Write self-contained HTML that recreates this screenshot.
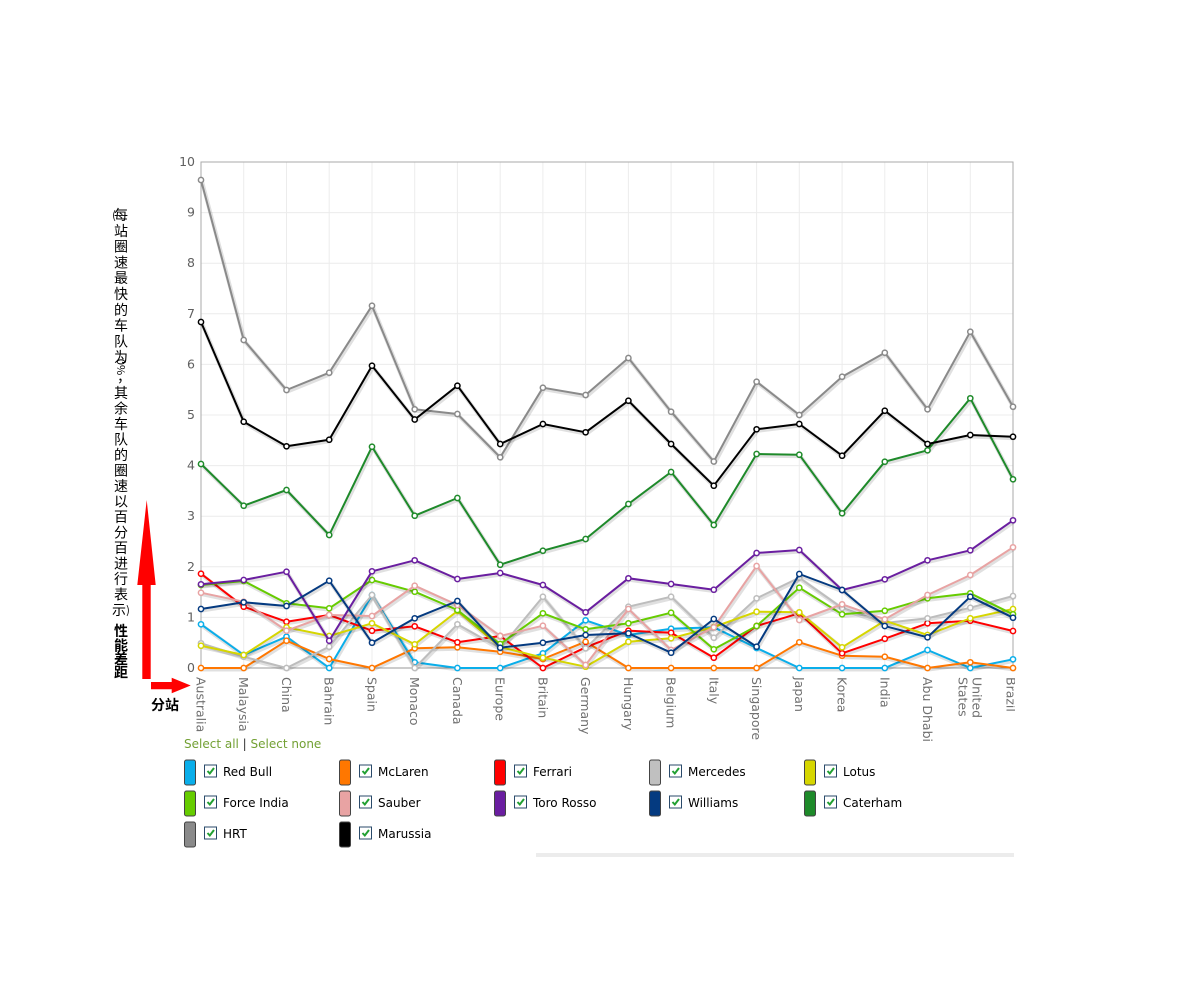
<!DOCTYPE html>
<html><head><meta charset="utf-8"><style>
html,body{margin:0;padding:0;background:#fff;}
svg{display:block;}
.t{font-family:"DejaVu Sans","Liberation Sans",sans-serif;}
.cj{font-family:"Noto Sans CJK SC","Liberation Sans",sans-serif;font-size:14px;fill:#000;}
</style></head><body>
<svg width="1200" height="1000" viewBox="0 0 1200 1000" xmlns="http://www.w3.org/2000/svg">
<defs>
<clipPath id="cl"><rect x="0" y="0" width="1015" height="1000"/></clipPath>
<marker id="m0" markerWidth="10" markerHeight="10" refX="5" refY="5" markerUnits="userSpaceOnUse"><circle cx="5" cy="5" r="2.6" fill="#fff" stroke="#0aaeea" stroke-width="1.5"/></marker>
<marker id="m1" markerWidth="10" markerHeight="10" refX="5" refY="5" markerUnits="userSpaceOnUse"><circle cx="5" cy="5" r="2.6" fill="#fff" stroke="#ff7700" stroke-width="1.5"/></marker>
<marker id="m2" markerWidth="10" markerHeight="10" refX="5" refY="5" markerUnits="userSpaceOnUse"><circle cx="5" cy="5" r="2.6" fill="#fff" stroke="#ff0000" stroke-width="1.5"/></marker>
<marker id="m3" markerWidth="10" markerHeight="10" refX="5" refY="5" markerUnits="userSpaceOnUse"><circle cx="5" cy="5" r="2.6" fill="#fff" stroke="#bdbdbd" stroke-width="1.5"/></marker>
<marker id="m4" markerWidth="10" markerHeight="10" refX="5" refY="5" markerUnits="userSpaceOnUse"><circle cx="5" cy="5" r="2.6" fill="#fff" stroke="#d6d600" stroke-width="1.5"/></marker>
<marker id="m5" markerWidth="10" markerHeight="10" refX="5" refY="5" markerUnits="userSpaceOnUse"><circle cx="5" cy="5" r="2.6" fill="#fff" stroke="#66cc00" stroke-width="1.5"/></marker>
<marker id="m6" markerWidth="10" markerHeight="10" refX="5" refY="5" markerUnits="userSpaceOnUse"><circle cx="5" cy="5" r="2.6" fill="#fff" stroke="#e8a3a3" stroke-width="1.5"/></marker>
<marker id="m7" markerWidth="10" markerHeight="10" refX="5" refY="5" markerUnits="userSpaceOnUse"><circle cx="5" cy="5" r="2.6" fill="#fff" stroke="#6a1ea0" stroke-width="1.5"/></marker>
<marker id="m8" markerWidth="10" markerHeight="10" refX="5" refY="5" markerUnits="userSpaceOnUse"><circle cx="5" cy="5" r="2.6" fill="#fff" stroke="#043a80" stroke-width="1.5"/></marker>
<marker id="m9" markerWidth="10" markerHeight="10" refX="5" refY="5" markerUnits="userSpaceOnUse"><circle cx="5" cy="5" r="2.6" fill="#fff" stroke="#1e8a2a" stroke-width="1.5"/></marker>
<marker id="m10" markerWidth="10" markerHeight="10" refX="5" refY="5" markerUnits="userSpaceOnUse"><circle cx="5" cy="5" r="2.6" fill="#fff" stroke="#8a8a8a" stroke-width="1.5"/></marker>
<marker id="m11" markerWidth="10" markerHeight="10" refX="5" refY="5" markerUnits="userSpaceOnUse"><circle cx="5" cy="5" r="2.6" fill="#fff" stroke="#000" stroke-width="1.5"/></marker>
</defs>

<!-- grid -->
<g stroke="#ececec" stroke-width="1">
<line x1="201" y1="617.4" x2="1013" y2="617.4"/>
<line x1="201" y1="566.8" x2="1013" y2="566.8"/>
<line x1="201" y1="516.2" x2="1013" y2="516.2"/>
<line x1="201" y1="465.6" x2="1013" y2="465.6"/>
<line x1="201" y1="415" x2="1013" y2="415"/>
<line x1="201" y1="364.4" x2="1013" y2="364.4"/>
<line x1="201" y1="313.8" x2="1013" y2="313.8"/>
<line x1="201" y1="263.2" x2="1013" y2="263.2"/>
<line x1="201" y1="212.6" x2="1013" y2="212.6"/>
<line x1="243.7" y1="162" x2="243.7" y2="668"/>
<line x1="286.5" y1="162" x2="286.5" y2="668"/>
<line x1="329.2" y1="162" x2="329.2" y2="668"/>
<line x1="372" y1="162" x2="372" y2="668"/>
<line x1="414.7" y1="162" x2="414.7" y2="668"/>
<line x1="457.4" y1="162" x2="457.4" y2="668"/>
<line x1="500.2" y1="162" x2="500.2" y2="668"/>
<line x1="542.9" y1="162" x2="542.9" y2="668"/>
<line x1="585.6" y1="162" x2="585.6" y2="668"/>
<line x1="628.4" y1="162" x2="628.4" y2="668"/>
<line x1="671.1" y1="162" x2="671.1" y2="668"/>
<line x1="713.8" y1="162" x2="713.8" y2="668"/>
<line x1="756.6" y1="162" x2="756.6" y2="668"/>
<line x1="799.3" y1="162" x2="799.3" y2="668"/>
<line x1="842.1" y1="162" x2="842.1" y2="668"/>
<line x1="884.8" y1="162" x2="884.8" y2="668"/>
<line x1="927.5" y1="162" x2="927.5" y2="668"/>
<line x1="970.3" y1="162" x2="970.3" y2="668"/>
</g>
<rect x="201" y="162" width="812" height="506" fill="none" stroke="#aaa" stroke-width="1"/>
<line x1="201" y1="668" x2="1013" y2="668" stroke="#999" stroke-width="1"/>

<!-- y tick labels -->
<g class="t" font-size="12.5" fill="#606060" text-anchor="end">
<text x="195" y="672">0</text>
<text x="195" y="621.4">1</text>
<text x="195" y="570.8">2</text>
<text x="195" y="520.2">3</text>
<text x="195" y="469.6">4</text>
<text x="195" y="419">5</text>
<text x="195" y="368.4">6</text>
<text x="195" y="317.8">7</text>
<text x="195" y="267.2">8</text>
<text x="195" y="216.6">9</text>
<text x="195" y="166">10</text>
</g>

<!-- series -->
<g fill="none" stroke-linejoin="round" stroke-linecap="round">
<g>
<polyline transform="translate(1,1.5)" stroke="rgba(0,0,0,0.12)" stroke-width="4" points="201,624.3 243.7,655 286.5,636.7 329.2,668 372,595 414.7,662.3 457.4,668 500.2,668 542.9,653.3 585.6,620.3 628.4,635 671.1,628.7 713.8,627.3 756.6,648 799.3,668 842.1,668 884.8,668 927.5,650 970.3,668 1013,659.3"/>
<polyline stroke="#0aaeea" stroke-width="2" marker-start="url(#m0)" marker-mid="url(#m0)" marker-end="url(#m0)" points="201,624.3 243.7,655 286.5,636.7 329.2,668 372,595 414.7,662.3 457.4,668 500.2,668 542.9,653.3 585.6,620.3 628.4,635 671.1,628.7 713.8,627.3 756.6,648 799.3,668 842.1,668 884.8,668 927.5,650 970.3,668 1013,659.3"/>
</g>
<g>
<polyline transform="translate(1,1.5)" stroke="rgba(0,0,0,0.12)" stroke-width="4" points="201,668 243.7,668 286.5,640.7 329.2,659 372,668 414.7,648.3 457.4,647.3 500.2,651.7 542.9,659 585.6,641.7 628.4,668 671.1,668 713.8,668 756.6,668 799.3,642.3 842.1,655.7 884.8,656.7 927.5,668 970.3,662.3 1013,668"/>
<polyline stroke="#ff7700" stroke-width="2" marker-start="url(#m1)" marker-mid="url(#m1)" marker-end="url(#m1)" points="201,668 243.7,668 286.5,640.7 329.2,659 372,668 414.7,648.3 457.4,647.3 500.2,651.7 542.9,659 585.6,641.7 628.4,668 671.1,668 713.8,668 756.6,668 799.3,642.3 842.1,655.7 884.8,656.7 927.5,668 970.3,662.3 1013,668"/>
</g>
<g>
<polyline transform="translate(1,1.5)" stroke="rgba(0,0,0,0.12)" stroke-width="4" points="201,573.7 243.7,606.7 286.5,621.7 329.2,615 372,630.7 414.7,626.3 457.4,642.3 500.2,636 542.9,668 585.6,647.3 628.4,630.7 671.1,632.7 713.8,657.7 756.6,626 799.3,613.3 842.1,653.3 884.8,638.7 927.5,623.3 970.3,620.7 1013,631"/>
<polyline stroke="#ff0000" stroke-width="2" marker-start="url(#m2)" marker-mid="url(#m2)" marker-end="url(#m2)" points="201,573.7 243.7,606.7 286.5,621.7 329.2,615 372,630.7 414.7,626.3 457.4,642.3 500.2,636 542.9,668 585.6,647.3 628.4,630.7 671.1,632.7 713.8,657.7 756.6,626 799.3,613.3 842.1,653.3 884.8,638.7 927.5,623.3 970.3,620.7 1013,631"/>
</g>
<g>
<polyline transform="translate(1,1.5)" stroke="rgba(0,0,0,0.12)" stroke-width="4" points="201,643.3 243.7,656.7 286.5,668 329.2,646.7 372,595 414.7,668 457.4,624.3 500.2,648.3 542.9,596.7 585.6,648.3 628.4,606.7 671.1,596.7 713.8,637.7 756.6,598.3 799.3,577.7 842.1,608 884.8,623 927.5,618.3 970.3,607.7 1013,596"/>
<polyline stroke="#bdbdbd" stroke-width="2" marker-start="url(#m3)" marker-mid="url(#m3)" marker-end="url(#m3)" points="201,643.3 243.7,656.7 286.5,668 329.2,646.7 372,595 414.7,668 457.4,624.3 500.2,648.3 542.9,596.7 585.6,648.3 628.4,606.7 671.1,596.7 713.8,637.7 756.6,598.3 799.3,577.7 842.1,608 884.8,623 927.5,618.3 970.3,607.7 1013,596"/>
</g>
<g>
<polyline transform="translate(1,1.5)" stroke="rgba(0,0,0,0.12)" stroke-width="4" points="201,645.7 243.7,655 286.5,627.3 329.2,636 372,623.3 414.7,644.3 457.4,611 500.2,647 542.9,657.7 585.6,666.7 628.4,641.7 671.1,638.3 713.8,627 756.6,611.7 799.3,612.3 842.1,647.3 884.8,620.7 927.5,635 970.3,618.3 1013,609"/>
<polyline stroke="#d6d600" stroke-width="2" marker-start="url(#m4)" marker-mid="url(#m4)" marker-end="url(#m4)" points="201,645.7 243.7,655 286.5,627.3 329.2,636 372,623.3 414.7,644.3 457.4,611 500.2,647 542.9,657.7 585.6,666.7 628.4,641.7 671.1,638.3 713.8,627 756.6,611.7 799.3,612.3 842.1,647.3 884.8,620.7 927.5,635 970.3,618.3 1013,609"/>
</g>
<g>
<polyline transform="translate(1,1.5)" stroke="rgba(0,0,0,0.12)" stroke-width="4" points="201,585 243.7,581 286.5,603.3 329.2,608.3 372,580 414.7,591.7 457.4,610 500.2,644 542.9,613.3 585.6,629.3 628.4,623.3 671.1,612.7 713.8,649.3 756.6,626 799.3,587.7 842.1,614.3 884.8,610.7 927.5,598.3 970.3,593.3 1013,614.3"/>
<polyline stroke="#66cc00" stroke-width="2" marker-start="url(#m5)" marker-mid="url(#m5)" marker-end="url(#m5)" points="201,585 243.7,581 286.5,603.3 329.2,608.3 372,580 414.7,591.7 457.4,610 500.2,644 542.9,613.3 585.6,629.3 628.4,623.3 671.1,612.7 713.8,649.3 756.6,626 799.3,587.7 842.1,614.3 884.8,610.7 927.5,598.3 970.3,593.3 1013,614.3"/>
</g>
<g>
<polyline transform="translate(1,1.5)" stroke="rgba(0,0,0,0.12)" stroke-width="4" points="201,592.7 243.7,601.7 286.5,630.7 329.2,615 372,616 414.7,585.7 457.4,605 500.2,636 542.9,625.7 585.6,665 628.4,609 671.1,650 713.8,627.3 756.6,566 799.3,620 842.1,604.3 884.8,619.3 927.5,595 970.3,575 1013,547.3"/>
<polyline stroke="#e8a3a3" stroke-width="2" marker-start="url(#m6)" marker-mid="url(#m6)" marker-end="url(#m6)" points="201,592.7 243.7,601.7 286.5,630.7 329.2,615 372,616 414.7,585.7 457.4,605 500.2,636 542.9,625.7 585.6,665 628.4,609 671.1,650 713.8,627.3 756.6,566 799.3,620 842.1,604.3 884.8,619.3 927.5,595 970.3,575 1013,547.3"/>
</g>
<g>
<polyline transform="translate(1,1.5)" stroke="rgba(0,0,0,0.12)" stroke-width="4" points="201,584.3 243.7,580 286.5,571.7 329.2,640.7 372,571.3 414.7,560.3 457.4,579 500.2,573 542.9,585 585.6,612.3 628.4,578.3 671.1,584 713.8,589.7 756.6,553 799.3,550 842.1,590 884.8,579.3 927.5,560.3 970.3,550.3 1013,520.3"/>
<polyline stroke="#6a1ea0" stroke-width="2" marker-start="url(#m7)" marker-mid="url(#m7)" marker-end="url(#m7)" points="201,584.3 243.7,580 286.5,571.7 329.2,640.7 372,571.3 414.7,560.3 457.4,579 500.2,573 542.9,585 585.6,612.3 628.4,578.3 671.1,584 713.8,589.7 756.6,553 799.3,550 842.1,590 884.8,579.3 927.5,560.3 970.3,550.3 1013,520.3"/>
</g>
<g>
<polyline transform="translate(1,1.5)" stroke="rgba(0,0,0,0.12)" stroke-width="4" points="201,609 243.7,602.3 286.5,606 329.2,580.7 372,642.7 414.7,618.3 457.4,601 500.2,647.7 542.9,642.7 585.6,635 628.4,633.3 671.1,652.7 713.8,619 756.6,646.7 799.3,574 842.1,590 884.8,626 927.5,637.3 970.3,596.7 1013,617.7"/>
<polyline stroke="#043a80" stroke-width="2" marker-start="url(#m8)" marker-mid="url(#m8)" marker-end="url(#m8)" points="201,609 243.7,602.3 286.5,606 329.2,580.7 372,642.7 414.7,618.3 457.4,601 500.2,647.7 542.9,642.7 585.6,635 628.4,633.3 671.1,652.7 713.8,619 756.6,646.7 799.3,574 842.1,590 884.8,626 927.5,637.3 970.3,596.7 1013,617.7"/>
</g>
<g>
<polyline transform="translate(1,1.5)" stroke="rgba(0,0,0,0.12)" stroke-width="4" points="201,464 243.7,505.7 286.5,490 329.2,535 372,446.7 414.7,515.7 457.4,498 500.2,564.7 542.9,550.7 585.6,539 628.4,504 671.1,472 713.8,525 756.6,454 799.3,454.7 842.1,513.3 884.8,461.7 927.5,450.3 970.3,398.3 1013,479.3"/>
<polyline stroke="#1e8a2a" stroke-width="2" marker-start="url(#m9)" marker-mid="url(#m9)" marker-end="url(#m9)" points="201,464 243.7,505.7 286.5,490 329.2,535 372,446.7 414.7,515.7 457.4,498 500.2,564.7 542.9,550.7 585.6,539 628.4,504 671.1,472 713.8,525 756.6,454 799.3,454.7 842.1,513.3 884.8,461.7 927.5,450.3 970.3,398.3 1013,479.3"/>
</g>
<g>
<polyline transform="translate(1,1.5)" stroke="rgba(0,0,0,0.12)" stroke-width="4" points="201,180 243.7,340 286.5,390 329.2,372.7 372,305.7 414.7,409.3 457.4,414 500.2,457.3 542.9,387.7 585.6,395 628.4,358 671.1,411.7 713.8,461.5 756.6,381.7 799.3,415 842.1,376.7 884.8,352.7 927.5,409.3 970.3,331.7 1013,406.7"/>
<polyline stroke="#8a8a8a" stroke-width="2" marker-start="url(#m10)" marker-mid="url(#m10)" marker-end="url(#m10)" points="201,180 243.7,340 286.5,390 329.2,372.7 372,305.7 414.7,409.3 457.4,414 500.2,457.3 542.9,387.7 585.6,395 628.4,358 671.1,411.7 713.8,461.5 756.6,381.7 799.3,415 842.1,376.7 884.8,352.7 927.5,409.3 970.3,331.7 1013,406.7"/>
</g>
<g>
<polyline transform="translate(1,1.5)" stroke="rgba(0,0,0,0.12)" stroke-width="4" points="201,322 243.7,421.7 286.5,446.3 329.2,439.7 372,365.7 414.7,419.5 457.4,385.7 500.2,444 542.9,424 585.6,432.3 628.4,400.7 671.1,444 713.8,485.7 756.6,429.3 799.3,424 842.1,455.7 884.8,410.7 927.5,444 970.3,435 1013,436.7"/>
<polyline stroke="#000" stroke-width="2" marker-start="url(#m11)" marker-mid="url(#m11)" marker-end="url(#m11)" points="201,322 243.7,421.7 286.5,446.3 329.2,439.7 372,365.7 414.7,419.5 457.4,385.7 500.2,444 542.9,424 585.6,432.3 628.4,400.7 671.1,444 713.8,485.7 756.6,429.3 799.3,424 842.1,455.7 884.8,410.7 927.5,444 970.3,435 1013,436.7"/>
</g>
</g>

<!-- x labels -->
<g class="t" font-size="12.5" fill="#707070" clip-path="url(#cl)" dominant-baseline="central">
<text transform="translate(201,677) rotate(90)">Australia</text>
<text transform="translate(243.7,677) rotate(90)">Malaysia</text>
<text transform="translate(286.5,677) rotate(90)">China</text>
<text transform="translate(329.2,677) rotate(90)">Bahrain</text>
<text transform="translate(372,677) rotate(90)">Spain</text>
<text transform="translate(414.7,677) rotate(90)">Monaco</text>
<text transform="translate(457.4,677) rotate(90)">Canada</text>
<text transform="translate(500.2,677) rotate(90)">Europe</text>
<text transform="translate(542.9,677) rotate(90)">Britain</text>
<text transform="translate(585.6,677) rotate(90)">Germany</text>
<text transform="translate(628.4,677) rotate(90)">Hungary</text>
<text transform="translate(671.1,677) rotate(90)">Belgium</text>
<text transform="translate(713.8,677) rotate(90)">Italy</text>
<text transform="translate(756.6,677) rotate(90)">Singapore</text>
<text transform="translate(799.3,677) rotate(90)">Japan</text>
<text transform="translate(842.1,677) rotate(90)">Korea</text>
<text transform="translate(884.8,677) rotate(90)">India</text>
<text transform="translate(927.5,677) rotate(90)">Abu Dhabi</text>
<text transform="translate(977,677) rotate(90)">United</text>
<text transform="translate(963,677) rotate(90)">States</text>
<text transform="translate(1011,677) rotate(90)">Brazil</text>
</g>

<!-- y-axis title (vertical) -->
<g class="cj" text-anchor="middle" dominant-baseline="central">
<text x="114" y="215" font-size="11">(</text>
<text x="121" y="215">每</text>
<text x="121" y="230.8">站</text>
<text x="121" y="246.6">圈</text>
<text x="121" y="262.4">速</text>
<text x="121" y="278.2">最</text>
<text x="121" y="294">快</text>
<text x="121" y="309.8">的</text>
<text x="121" y="325.6">车</text>
<text x="121" y="341.4">队</text>
<text x="121" y="357">为</text>
<text transform="translate(121,367) rotate(90)" font-size="11">0%</text>
<text x="124" y="377">，</text>
<text x="121" y="393">其</text>
<text x="121" y="408.5">余</text>
<text x="121" y="424">车</text>
<text x="121" y="439.5">队</text>
<text x="121" y="455">的</text>
<text x="121" y="470.5">圈</text>
<text x="121" y="486">速</text>
<text x="121" y="501.5">以</text>
<text x="121" y="517">百</text>
<text x="121" y="532.5">分</text>
<text x="121" y="548">百</text>
<text x="121" y="563.5">进</text>
<text x="121" y="579">行</text>
<text x="121" y="594.5">表</text>
<text x="119" y="610">示</text>
<text x="128" y="610" font-size="11">)</text>
<text x="121" y="631" font-weight="bold">性</text>
<text x="121" y="645.5" font-weight="bold">能</text>
<text x="121" y="659" font-weight="bold">差</text>
<text x="121" y="672.5" font-weight="bold">距</text>
</g>

<!-- red arrows -->
<polygon fill="#ff0000" points="146.7,500 155.7,585 150.7,585 150.7,679 142.3,679 142.3,585 137.3,585"/>
<polygon fill="#ff0000" points="151,682 171.7,682 171.7,677.7 190.7,685.5 171.7,693.3 171.7,689.3 151,689.3"/>
<text x="151" y="710" class="cj" font-size="14" font-weight="bold">分站</text>

<!-- select all/none -->
<text x="184" y="748" class="t" font-size="12"><tspan fill="#72a033">Select all</tspan><tspan fill="#333"> | </tspan><tspan fill="#72a033">Select none</tspan></text>

<!-- legend -->
<g class="t" font-size="12" fill="#000">
<g transform="translate(184,759.5)">
<rect x="0.5" y="0.5" width="11" height="25" rx="2" fill="#0aaeea" stroke="#444"/>
<rect x="20.5" y="5.5" width="12" height="12" fill="#fff" stroke="#2a4a6a"/>
<path d="M23.5,11.5 L25.8,14 L30,8.5" fill="none" stroke="#22a032" stroke-width="2"/>
<text x="39" y="16.5">Red Bull</text></g>
<g transform="translate(339,759.5)">
<rect x="0.5" y="0.5" width="11" height="25" rx="2" fill="#ff7700" stroke="#444"/>
<rect x="20.5" y="5.5" width="12" height="12" fill="#fff" stroke="#2a4a6a"/>
<path d="M23.5,11.5 L25.8,14 L30,8.5" fill="none" stroke="#22a032" stroke-width="2"/>
<text x="39" y="16.5">McLaren</text></g>
<g transform="translate(494,759.5)">
<rect x="0.5" y="0.5" width="11" height="25" rx="2" fill="#ff0000" stroke="#444"/>
<rect x="20.5" y="5.5" width="12" height="12" fill="#fff" stroke="#2a4a6a"/>
<path d="M23.5,11.5 L25.8,14 L30,8.5" fill="none" stroke="#22a032" stroke-width="2"/>
<text x="39" y="16.5">Ferrari</text></g>
<g transform="translate(649,759.5)">
<rect x="0.5" y="0.5" width="11" height="25" rx="2" fill="#c0c0c0" stroke="#444"/>
<rect x="20.5" y="5.5" width="12" height="12" fill="#fff" stroke="#2a4a6a"/>
<path d="M23.5,11.5 L25.8,14 L30,8.5" fill="none" stroke="#22a032" stroke-width="2"/>
<text x="39" y="16.5">Mercedes</text></g>
<g transform="translate(804,759.5)">
<rect x="0.5" y="0.5" width="11" height="25" rx="2" fill="#d6d600" stroke="#444"/>
<rect x="20.5" y="5.5" width="12" height="12" fill="#fff" stroke="#2a4a6a"/>
<path d="M23.5,11.5 L25.8,14 L30,8.5" fill="none" stroke="#22a032" stroke-width="2"/>
<text x="39" y="16.5">Lotus</text></g>

<g transform="translate(184,790.5)">
<rect x="0.5" y="0.5" width="11" height="25" rx="2" fill="#66cc00" stroke="#444"/>
<rect x="20.5" y="5.5" width="12" height="12" fill="#fff" stroke="#2a4a6a"/>
<path d="M23.5,11.5 L25.8,14 L30,8.5" fill="none" stroke="#22a032" stroke-width="2"/>
<text x="39" y="16.5">Force India</text></g>
<g transform="translate(339,790.5)">
<rect x="0.5" y="0.5" width="11" height="25" rx="2" fill="#e8a3a3" stroke="#444"/>
<rect x="20.5" y="5.5" width="12" height="12" fill="#fff" stroke="#2a4a6a"/>
<path d="M23.5,11.5 L25.8,14 L30,8.5" fill="none" stroke="#22a032" stroke-width="2"/>
<text x="39" y="16.5">Sauber</text></g>
<g transform="translate(494,790.5)">
<rect x="0.5" y="0.5" width="11" height="25" rx="2" fill="#6a1ea0" stroke="#444"/>
<rect x="20.5" y="5.5" width="12" height="12" fill="#fff" stroke="#2a4a6a"/>
<path d="M23.5,11.5 L25.8,14 L30,8.5" fill="none" stroke="#22a032" stroke-width="2"/>
<text x="39" y="16.5">Toro Rosso</text></g>
<g transform="translate(649,790.5)">
<rect x="0.5" y="0.5" width="11" height="25" rx="2" fill="#043a80" stroke="#444"/>
<rect x="20.5" y="5.5" width="12" height="12" fill="#fff" stroke="#2a4a6a"/>
<path d="M23.5,11.5 L25.8,14 L30,8.5" fill="none" stroke="#22a032" stroke-width="2"/>
<text x="39" y="16.5">Williams</text></g>
<g transform="translate(804,790.5)">
<rect x="0.5" y="0.5" width="11" height="25" rx="2" fill="#1e8a2a" stroke="#444"/>
<rect x="20.5" y="5.5" width="12" height="12" fill="#fff" stroke="#2a4a6a"/>
<path d="M23.5,11.5 L25.8,14 L30,8.5" fill="none" stroke="#22a032" stroke-width="2"/>
<text x="39" y="16.5">Caterham</text></g>

<g transform="translate(184,821.5)">
<rect x="0.5" y="0.5" width="11" height="25" rx="2" fill="#8a8a8a" stroke="#444"/>
<rect x="20.5" y="5.5" width="12" height="12" fill="#fff" stroke="#2a4a6a"/>
<path d="M23.5,11.5 L25.8,14 L30,8.5" fill="none" stroke="#22a032" stroke-width="2"/>
<text x="39" y="16.5">HRT</text></g>
<g transform="translate(339,821.5)">
<rect x="0.5" y="0.5" width="11" height="25" rx="2" fill="#000" stroke="#444"/>
<rect x="20.5" y="5.5" width="12" height="12" fill="#fff" stroke="#2a4a6a"/>
<path d="M23.5,11.5 L25.8,14 L30,8.5" fill="none" stroke="#22a032" stroke-width="2"/>
<text x="39" y="16.5">Marussia</text></g>
</g>

<rect x="536" y="853" width="478" height="4" fill="#ececec"/>
</svg>
</body></html>
